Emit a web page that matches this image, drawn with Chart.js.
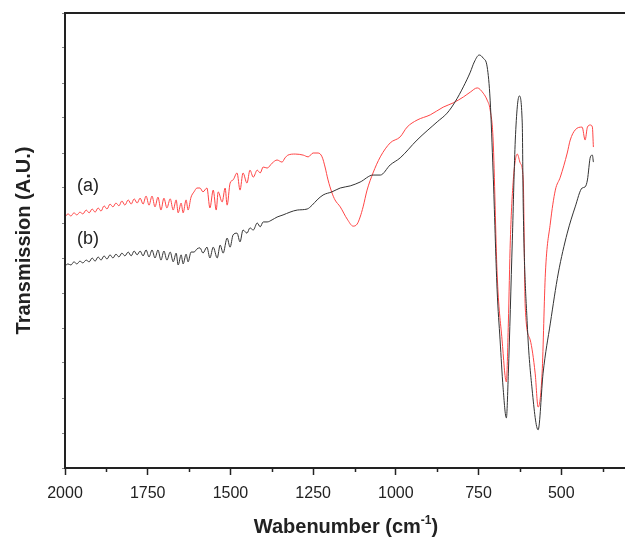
<!DOCTYPE html>
<html lang="en">
<head>
<meta charset="UTF-8">
<title>FTIR transmission spectra (a) and (b)</title>
<script src="https://cdn.jsdelivr.net/npm/chart.js"></script>
<style>
  html,body{margin:0;padding:0;background:#fff;overflow:hidden}
  #wrap{width:660px;height:541px}
</style>
</head>
<body>
<div id="wrap"><canvas id="ftir" width="660" height="541"></canvas></div>
<script>
// spectrum (a) - red
const wnA=[2000,1991,1982,1973,1964,1955,1946,1936,1927,1918,1909,1900,1891,1882,1873,1864,1855,1846,1837,1828,
  1819,1809,1800,1791,1782,1773,1764,1755,1746,1737,1728,1719,1710,1701,1692,1682,1673,1664,1658,1649,
  1643,1634,1628,1619,1610,1601,1592,1583,1571,1562,1552,1543,1537,1525,1516,
  1510,1501,1492,1480,1471,1462,1450,1441,1431,1419,1410,1401,1389,1374,1359,1344,1335,1326,1304,1280,
  1265,1250,1235,1223,1214,1205,1193,1184,1168,1147,1129,1117,1108,1099,1087,1069,1047,1017,987,966,
  936,896,857,827,796,775,754,736,724,715,706,694,679,666,660,654,645,633,624,615,
  609,594,579,570,558,548,533,518,503,482,473,458,437,428,421,412,406,403];
const trA=[71.7,72.6,72.0,72.9,72.3,73.1,72.6,73.7,72.9,74.0,73.1,74.3,73.4,74.9,74.0,75.4,74.6,75.7,74.9,76.3,
  75.1,76.6,75.4,76.9,75.7,77.1,75.4,77.7,75.1,77.7,74.6,77.4,73.7,77.1,74.3,76.9,73.7,76.6,72.9,75.7,
  72.9,76.6,73.7,77.4,78.9,80.0,80.0,78.9,80.0,74.3,79.4,73.7,78.9,76.0,80.0,
  75.1,81.4,82.3,84.3,79.4,84.3,81.4,85.1,83.1,85.1,84.3,86.0,85.7,87.1,88.0,87.4,88.6,89.4,89.7,89.4,
  88.9,90.0,90.0,88.9,86.0,82.3,78.6,76.6,74.6,71.1,69.1,69.7,71.7,74.6,79.4,84.3,88.9,92.9,94.6,97.4,
  99.4,100.9,103.1,104.3,106.0,107.4,108.6,107.1,105.1,102.3,93.7,55.7,36.6,24.6,41.4,65.1,82.3,89.7,87.1,82.3,
  46.0,36.6,27.1,17.4,27.1,55.7,70.0,79.4,83.1,90.0,93.7,96.6,97.4,93.7,97.4,98.0,97.4,91.7];

// spectrum (b) - black
const wnB=[2000,1991,1982,1973,1964,1955,1946,1936,1927,1918,1909,1900,1891,1882,1873,1864,1855,1846,1837,1828,
  1819,1809,1800,1791,1782,1773,1764,1755,1746,1737,1728,1719,1710,1701,1692,1682,1673,1664,1658,1649,
  1643,1634,1628,1619,1610,1601,1592,1583,1571,1562,1552,1540,1531,1522,1510,1501,1492,1480,1471,1462,1450,
  1441,1431,1419,1410,1401,1389,1374,1359,1341,1320,1298,1268,1253,1238,1220,1193,1168,1138,1108,1069,
  1047,1017,987,936,875,845,821,796,775,763,748,736,724,715,706,694,685,676,666,660,
  648,639,627,618,615,603,588,570,555,533,509,482,458,437,428,421,412,406,403];
const trB=[57.7,58.3,58.0,58.9,58.3,59.1,58.6,59.4,58.9,60.0,59.1,60.3,59.4,60.6,59.7,60.9,60.0,61.1,60.3,61.4,
  60.6,61.7,60.6,62.0,60.9,62.0,60.6,62.3,60.3,62.3,60.0,62.3,59.4,62.0,59.4,61.7,58.9,61.4,58.0,60.9,
  58.3,61.1,58.9,61.7,61.7,62.6,62.9,61.4,63.1,60.0,63.1,60.0,63.7,61.4,65.7,63.1,66.6,67.1,64.6,68.0,67.1,
  68.6,68.0,70.0,68.9,70.3,70.3,70.9,71.7,72.3,73.1,73.7,74.0,75.1,76.6,78.0,78.9,80.0,80.6,81.7,83.7,
  83.7,86.6,88.6,93.7,98.9,101.4,104.6,108.9,113.1,116.0,118.0,117.1,114.6,105.1,84.3,50.9,36.6,23.1,14.3,27.1,
  65.1,93.7,106.3,98.6,74.6,41.4,22.3,10.9,27.1,41.4,55.7,67.1,74.6,80.0,80.3,82.3,88.9,89.4,87.4];

const xTicks=[2000,1750,1500,1250,1000,750,500];
const xMinor=[1875,1625,1375,1125,875,625,375];
const yTicks=[0,10,20,30,40,50,60,70,80,90,100,110,120,130];
const curveNames=['(a)','(b)'];
const curveNameAt=[[1964,80.6],[1964,65.4]];

const toPts=(xs,ys)=>xs.map((x,i)=>({x,y:ys[i]}));

const frame={
  id:'frame',
  afterDraw(chart){
    const {ctx,chartArea:a,scales:{x,y}}=chart;
    ctx.save();
    ctx.strokeStyle='#222';
    ctx.lineWidth=2;
    ctx.strokeRect(a.left,a.top,a.right-a.left,a.bottom-a.top);
    // short minor ticks under the x axis
    ctx.lineWidth=1.5;
    xMinor.forEach(v=>{
      const px=Math.round(x.getPixelForValue(v))+0.5;
      ctx.beginPath();ctx.moveTo(px,a.bottom);ctx.lineTo(px,a.bottom+4);ctx.stroke();
    });
    // (a) / (b)
    ctx.fillStyle='#222';
    ctx.font='18px "Liberation Sans", Arial, sans-serif';
    ctx.textBaseline='middle';ctx.textAlign='left';
    curveNames.forEach((t,i)=>ctx.fillText(t,x.getPixelForValue(curveNameAt[i][0]),y.getPixelForValue(curveNameAt[i][1])));
    // x title with superscript
    const big='bold 20px "Liberation Sans", Arial, sans-serif', small='bold 12px "Liberation Sans", Arial, sans-serif';
    const p1='Wabenumber (cm', p2='-1', p3=')';
    ctx.font=big; const w1=ctx.measureText(p1).width, w3=ctx.measureText(p3).width;
    ctx.font=small; const w2=ctx.measureText(p2).width;
    let cx=a.left+281-(w1+w2+w3)/2, cy=526;
    ctx.textBaseline='alphabetic';
    ctx.font=big; ctx.fillText(p1,cx,cy+7); cx+=w1;
    ctx.font=small; ctx.fillText(p2,cx,cy-2); cx+=w2;
    ctx.font=big; ctx.fillText(p3,cx,cy+7);
    ctx.restore();
  }
};

new Chart(document.getElementById('ftir'),{
  type:'line',
  data:{datasets:[
    {label:'(b)',data:toPts(wnB,trB),borderColor:'#333',borderWidth:1,pointRadius:0,cubicInterpolationMode:'monotone'},
    {label:'(a)',data:toPts(wnA,trA),borderColor:'#ff4545',borderWidth:1,pointRadius:0,cubicInterpolationMode:'monotone'}
  ]},
  options:{
    responsive:false,animation:false,
    layout:{padding:{left:0,top:13,right:16,bottom:0}},
    plugins:{legend:{display:false},tooltip:{enabled:false}},
    scales:{
      x:{type:'linear',reverse:true,min:250,max:2000,
        afterBuildTicks:s=>{s.ticks=xTicks.map(v=>({value:v}));},
        afterFit:s=>{s.height=73;},
        border:{display:false},
        grid:{drawOnChartArea:false,tickLength:7,tickColor:'#222',tickWidth:1.5},
        ticks:{color:'#222',padding:9,maxRotation:0,font:{family:'"Liberation Sans", Arial, sans-serif',size:16},callback:v=>String(v)}
      },
      y:{min:0,max:130,
        afterBuildTicks:s=>{s.ticks=yTicks.map(v=>({value:v}));},
        afterFit:s=>{s.width=65;},
        border:{display:false},
        grid:{drawOnChartArea:false,tickLength:3,tickColor:'#888',tickWidth:1},
        ticks:{display:false},
        title:{display:true,text:'Transmission (A.U.)',color:'#222',padding:{top:12,bottom:0},
          font:{family:'"Liberation Sans", Arial, sans-serif',size:20,weight:'bold'}}
      }
    }
  },
  plugins:[frame]
});
</script>
</body>
</html>
